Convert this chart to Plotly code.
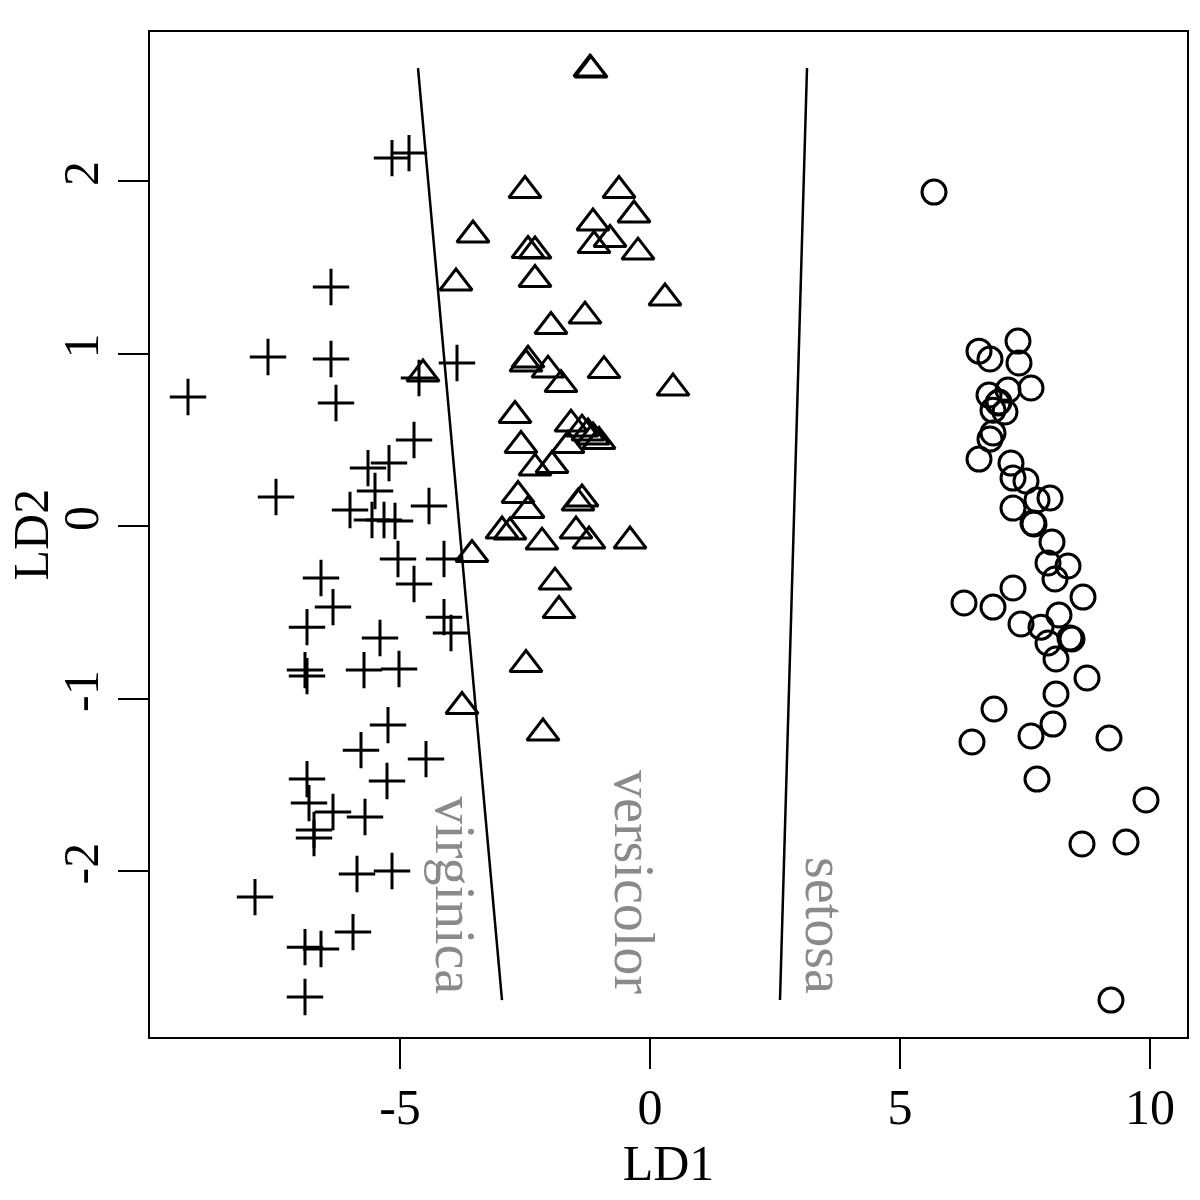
import plotly.graph_objects as go

# ---- data ----
virginica_ld1 = [-5.16, -4.82, -6.38, -7.64, -6.38, -9.24, -6.28, -4.62, -3.86, -4.72,
                 -5.64, -5.22, -7.48, -5.50, -6.00, -4.42, -5.56, -5.32, -5.10, -5.04,
                 -4.12, -6.58, -4.72, -6.34, -4.12, -3.98, -6.86, -5.40, -6.90, -6.86,
                 -5.72, -5.02, -5.24, -5.78, -4.48, -6.86, -5.26, -6.82, -6.34, -5.70,
                 -6.72, -6.72, -5.86, -5.16, -7.90, -5.94, -6.90, -6.58, -6.90]
virginica_ld2 = [2.133, 2.162, 1.386, 0.980, 0.968, 0.748, 0.713, 0.858, 0.945, 0.499,
                 0.336, 0.365, 0.168, 0.203, 0.093, 0.116, 0.035, 0.035, 0.029, -0.191,
                 -0.191, -0.301, -0.336, -0.470, -0.528, -0.620, -0.586, -0.649, -0.835, -0.870,
                 -0.835, -0.829, -1.154, -1.299, -1.351, -1.467, -1.478, -1.606, -1.658, -1.687,
                 -1.762, -1.809, -2.017, -2.000, -2.151, -2.354, -2.441, -2.452, -2.730]

versicolor_ld1 = [-1.18, -1.20, -2.50, -0.62, -0.32, -1.14, -0.80, -1.12, -3.54, -2.44,
                  -2.30, -0.24, -3.88, -2.30, 0.30, -1.30, -1.98, -4.54, -2.48, -2.44,
                  -2.04, -0.92, -1.78, 0.46, -2.70, -1.58, -1.36, -1.24, -1.02, -1.64,
                  -2.58, -1.96, -2.30, -2.64, -1.36, -1.44, -2.44, -2.96, -2.80, -2.16,
                  -1.48, -1.22, -0.40, -3.56, -1.90, -1.82, -2.48, -3.76, -2.14, -1.14]
versicolor_ld2 = [2.643, 2.649, 1.945, 1.945, 1.803, 1.757, 1.661, 1.626, 1.687, 1.597,
                  1.594, 1.588, 1.409, 1.429, 1.322, 1.217, 1.157, 0.881, 0.939, 0.962,
                  0.904, 0.901, 0.820, 0.800, 0.641, 0.591, 0.562, 0.539, 0.490, 0.467,
                  0.467, 0.351, 0.336, 0.177, 0.157, 0.133, 0.090, -0.029, -0.035, -0.093,
                  -0.029, -0.087, -0.087, -0.165, -0.325, -0.490, -0.803, -1.046, -1.200, 0.516]

setosa_ld1 = [5.68, 7.36, 6.58, 6.80, 7.38, 7.62, 6.78, 7.16, 6.96, 6.86,
              7.10, 6.98, 6.86, 6.80, 6.58, 7.22, 7.26, 7.52, 8.00, 7.74,
              7.26, 7.68, 7.66, 8.04, 7.96, 8.36, 8.10, 7.26, 8.66, 6.28,
              6.86, 8.18, 7.42, 7.82, 7.96, 8.40, 8.44, 8.12, 8.74, 8.12,
              6.88, 8.06, 7.62, 6.44, 9.18, 7.74, 9.92, 8.64, 9.52, 9.22]
setosa_ld2 = [1.936, 1.072, 1.014, 0.968, 0.945, 0.800, 0.759, 0.788, 0.713, 0.672,
              0.661, 0.719, 0.539, 0.504, 0.388, 0.365, 0.278, 0.261, 0.162, 0.151,
              0.104, 0.012, 0.017, -0.093, -0.214, -0.232, -0.307, -0.359, -0.412, -0.446,
              -0.470, -0.516, -0.568, -0.586, -0.678, -0.649, -0.655, -0.771, -0.881, -0.974,
              -1.061, -1.148, -1.217, -1.252, -1.229, -1.467, -1.588, -1.843, -1.832, -2.748]

# decision boundaries (endpoints)
boundary1_ld1 = [-4.64, -2.96]
boundary1_ld2 = [2.655, -2.748]
boundary2_ld1 = [3.14, 2.60]
boundary2_ld2 = [2.655, -2.748]

region_labels = ["virginica", "versicolor", "setosa"]
region_label_ld1 = [-3.90, -0.32, 3.50]
region_label_ld2 = [-2.14, -2.064, -2.313]

x_ticks = [-5, 0, 5, 10]
y_ticks = [-2, -1, 0, 1, 2]
x_range = [-10.0, 10.74]
y_range = [-2.962, 2.864]

FONT = "Liberation Serif, Times New Roman, serif"

fig = go.Figure()

fig.add_trace(go.Scatter(
    x=virginica_ld1, y=virginica_ld2, mode="markers",
    marker=dict(symbol="cross-thin-open", size=26, color="black",
                line=dict(color="black", width=3)),
    showlegend=False))
fig.add_trace(go.Scatter(
    x=versicolor_ld1, y=versicolor_ld2, mode="markers",
    marker=dict(symbol="triangle-up-open", size=28, color="black",
                line=dict(color="black", width=3)),
    showlegend=False))
fig.add_trace(go.Scatter(
    x=setosa_ld1, y=setosa_ld2, mode="markers",
    marker=dict(symbol="circle-open", size=24, color="black",
                line=dict(color="black", width=3)),
    showlegend=False))

for bx, by in [(boundary1_ld1, boundary1_ld2), (boundary2_ld1, boundary2_ld2)]:
    fig.add_trace(go.Scatter(x=bx, y=by, mode="lines",
                             line=dict(color="black", width=2.5),
                             showlegend=False, hoverinfo="skip"))

for t, lx, ly in zip(region_labels, region_label_ld1, region_label_ld2):
    fig.add_annotation(x=lx, y=ly, xref="x", yref="y", text=t, textangle=90,
                       showarrow=False,
                       font=dict(family=FONT, size=56, color="#8a8a8a"))

# y-axis title placed like R's ylab (left edge of its box at the page edge)
fig.add_annotation(x=-0.1437, y=0.5, xref="paper", yref="paper", text="LD2",
                   textangle=-90, showarrow=False, xanchor="left", yanchor="middle",
                   font=dict(family=FONT, size=50, color="black"))

fig.update_layout(
    width=1200, height=1200, autosize=False,
    margin=dict(l=150, r=13, t=32, b=163),
    plot_bgcolor="white", paper_bgcolor="white",
    font=dict(family=FONT, color="black"),
)
fig.update_xaxes(
    range=x_range, tickvals=x_ticks, ticktext=[str(v) for v in x_ticks],
    showgrid=False, zeroline=False,
    showline=True, mirror=True, linecolor="black", linewidth=2,
    ticks="outside", ticklen=30, tickwidth=2, tickcolor="black",
    ticklabelstandoff=-5,
    tickfont=dict(family=FONT, size=50, color="black"),
    title=dict(text="LD1", font=dict(family=FONT, size=50, color="black"), standoff=6),
)
fig.update_yaxes(
    range=y_range, tickvals=y_ticks, ticktext=[str(v) for v in y_ticks],
    showgrid=False, zeroline=False,
    showline=True, mirror=True, linecolor="black", linewidth=2,
    ticks="outside", ticklen=30, tickwidth=2, tickcolor="black",
    tickangle=-90,
    tickfont=dict(family=FONT, size=50, color="black"),
)

fig.write_html("out.html",
               config={"displayModeBar": False},
               post_script="document.body.style.margin='0';document.body.style.overflow='hidden';")
